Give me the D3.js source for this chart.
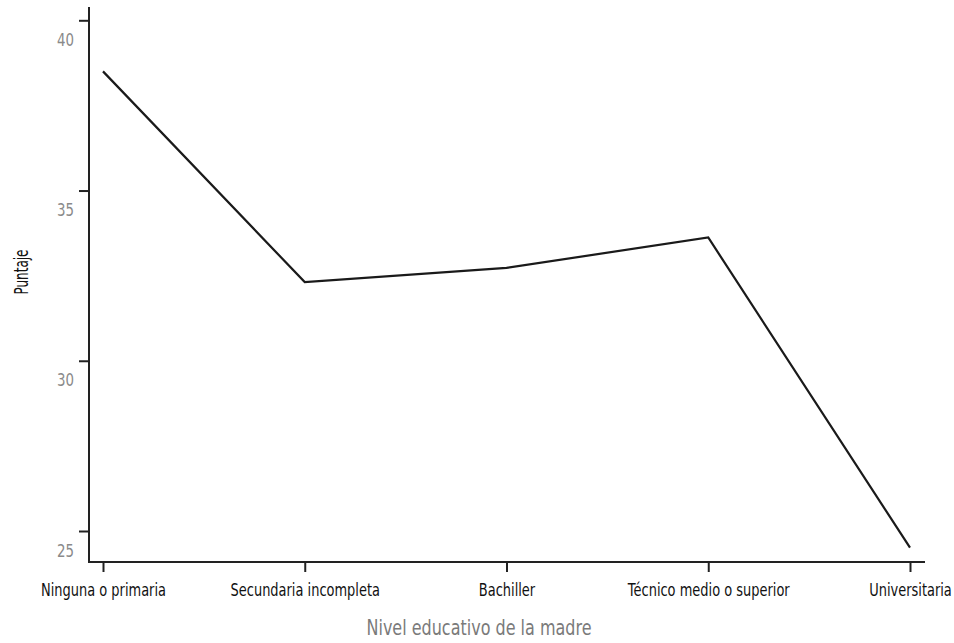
<!DOCTYPE html>
<html>
<head>
<meta charset="utf-8">
<script src="https://cdn.jsdelivr.net/npm/d3@7"></script>
<style>
  html, body { margin: 0; padding: 0; background: #fff; }
  svg text { font-family: "DejaVu Sans", sans-serif; }
</style>
</head>
<body>
<svg id="chart" width="954" height="643"></svg>
<script>
const categories = ["Ninguna o primaria", "Secundaria incompleta", "Bachiller", "Técnico medio o superior", "Universitaria"];
const scores = [38.5, 32.31, 32.73, 33.62, 24.51];
const yTicks = [25, 30, 35, 40];
const xTitle = "Nivel educativo de la madre";
const yTitle = "Puntaje";

const svg = d3.select("#chart");
const axisX0 = 89, axisX1 = 925, axisYTop = 7, axisYBottom = 562;

// condense glyphs horizontally by factor s (keeps height, narrows width)
function condense(sel, s) {
  sel.each(function () {
    const w = this.getComputedTextLength();
    d3.select(this).attr("textLength", w * s).attr("lengthAdjust", "spacingAndGlyphs");
  });
}

const x = d3.scalePoint().domain(categories).range([103, 910]);
const y = d3.scaleLinear().domain([25, 40]).range([531, 20.3]);

// Y axis
const gy = svg.append("g").attr("transform", `translate(${axisX0},0)`)
  .call(d3.axisLeft(y).tickValues(yTicks).tickSize(10).tickSizeOuter(0).tickFormat(d3.format("d")));
gy.select(".domain").remove();
gy.selectAll(".tick line").attr("stroke", "#222").attr("stroke-width", 2);
const yt = gy.selectAll(".tick text")
  .attr("x", -15).attr("dy", "0").attr("y", 25)
  .attr("fill", "#8a8a8a").attr("font-size", 18).attr("font-family", "DejaVu Sans");
svg.append("line").attr("x1", axisX0).attr("x2", axisX0).attr("y1", axisYTop).attr("y2", axisYBottom + 1)
  .attr("stroke", "#222").attr("stroke-width", 2);

// X axis
const gx = svg.append("g").attr("transform", `translate(0,${axisYBottom})`)
  .call(d3.axisBottom(x).tickSize(10).tickSizeOuter(0));
gx.select(".domain").remove();
gx.selectAll(".tick line").attr("stroke", "#222").attr("stroke-width", 2);
const xt = gx.selectAll(".tick text")
  .attr("y", 34).attr("dy", "0")
  .attr("fill", "#111").attr("font-size", 17).attr("font-family", "DejaVu Sans");
svg.append("line").attr("x1", axisX0 - 1).attr("x2", axisX1).attr("y1", axisYBottom).attr("y2", axisYBottom)
  .attr("stroke", "#222").attr("stroke-width", 2);

// Line
const line = d3.line().x((d, i) => x(categories[i])).y(d => y(d));
svg.append("path").datum(scores)
  .attr("d", line)
  .attr("fill", "none").attr("stroke", "#1a1a1a").attr("stroke-width", 2.2)
  .attr("stroke-linejoin", "miter");

// Titles
const xtT = svg.append("text").attr("x", 479).attr("y", 635).attr("text-anchor", "middle")
  .attr("fill", "#7a7a7a").attr("font-size", 22).text(xTitle);
const ytT = svg.append("text").attr("transform", "translate(28,272) rotate(-90)").attr("text-anchor", "middle")
  .attr("fill", "#111").attr("font-size", 20).text(yTitle);

// fit widths to reference proportions
const firstW = xt.filter(d => d === categories[0]).node().getComputedTextLength();
condense(xt, 125 / firstW);
const y40W = yt.filter(d => d === 40).node().getComputedTextLength();
condense(yt, 17 / y40W);
condense(xtT, 225 / xtT.node().getComputedTextLength());
condense(ytT, 45 / ytT.node().getComputedTextLength());
</script>
</body>
</html>
